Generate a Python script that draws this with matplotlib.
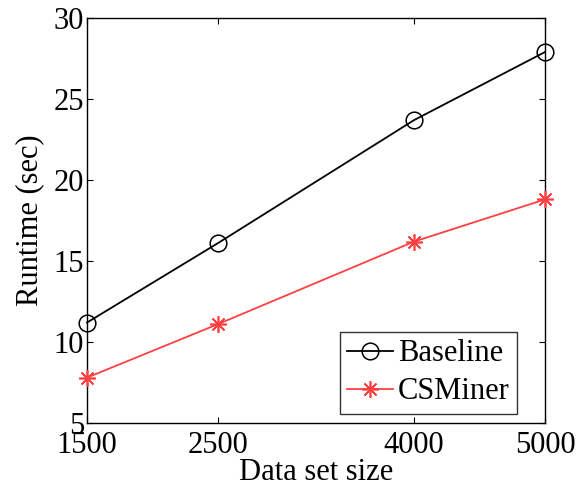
import matplotlib
matplotlib.use("Agg")
import matplotlib.pyplot as plt

sizes = [1500, 2500, 4000, 5000]
baseline = [11.2, 16.1, 23.7, 27.9]
csminer = [7.8, 11.1, 16.2, 18.8]
x_ticks = [1500, 2500, 4000, 5000]
y_ticks = [5, 10, 15, 20, 25, 30]

plt.rcParams["font.family"] = ["Liberation Serif", "DejaVu Serif"]

fig = plt.figure(figsize=(5.78, 4.88), dpi=100)
ax = fig.add_axes([87 / 578, 65 / 488, 458 / 578, 405 / 488])

ax.plot(sizes, baseline, color="black", lw=1.3, marker="o", markersize=12,
        markerfacecolor="none", markeredgecolor="black", markeredgewidth=1.1,
        label="Baseline", clip_on=False, zorder=3)
ax.plot(sizes, csminer, color="#ff4040", lw=1.3, marker=(8, 2, 0), markersize=12,
        markeredgecolor="#ff4040", markeredgewidth=1.2,
        label="CSMiner", clip_on=False, zorder=3)

ax.set_xlim(1500, 5000)
ax.set_ylim(5, 30)
ax.set_xticks(x_ticks)
ax.set_yticks(y_ticks)
ax.tick_params(direction="in", top=True, right=True, length=4, width=0.8,
               labelsize=22, pad=3)
ax.tick_params(axis="y", pad=2)
ax.tick_params(axis="x", pad=6)
for s in ax.spines.values():
    s.set_linewidth(1.0)

ax.set_xlabel("Data set size", fontsize=22, labelpad=-2)
ax.set_ylabel("Runtime (sec)", fontsize=22, labelpad=7)

leg = ax.legend(loc="lower right", fontsize=22, frameon=True, fancybox=False,
                edgecolor="black", borderpad=0.25, labelspacing=0.3,
                handlelength=1.5, handletextpad=0.15, borderaxespad=0.0,
                bbox_to_anchor=(517 / 578, 74 / 488), bbox_transform=fig.transFigure)
leg.get_frame().set_linewidth(1.0)

fig.savefig("out.png", dpi=100)
